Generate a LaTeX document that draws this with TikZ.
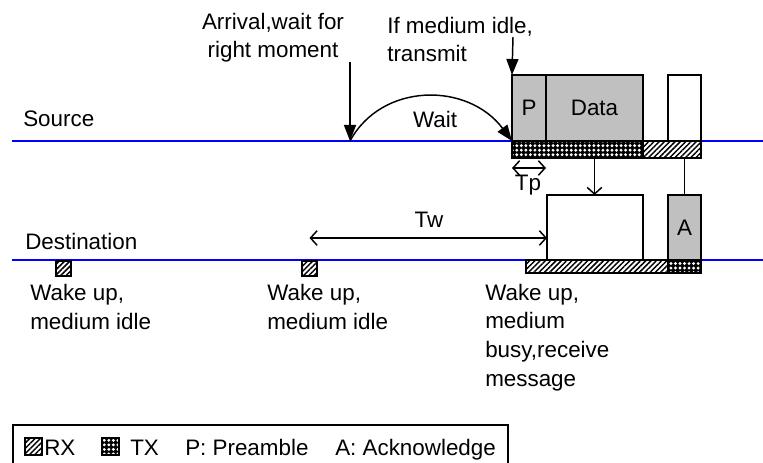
\documentclass[tikz,border=0pt]{standalone}
\usepackage{fontspec}
\setmainfont{Liberation Sans}
\usetikzlibrary{arrows.meta,patterns.meta}
\definecolor{boxgray}{RGB}{192,192,192}
\newcommand\lbl{\fontsize{16.8}{21.4}\selectfont}

\begin{document}
\begin{tikzpicture}[x=.75pt,y=-.75pt,font=\lbl,
  txt/.style={inner sep=0pt, anchor=base west, align=left},
  size/.style 2 args={minimum width=#1*.75pt, minimum height=#2*.75pt},
  frame/.style={draw, line width=1.2pt, inner sep=0pt, outer sep=0pt, anchor=north west},
  rx/.style={frame, pattern={Lines[angle=45,distance=2.8pt,line width=1.1pt]}},
  tx/.style={frame, preaction={fill=black}, pattern={Dots[distance=3.4pt,radius=1.2pt]}, pattern color=white},
  tip/.style={-{Triangle[length=12pt,width=9pt]}, line width=1.1pt},
  open/.style={-{Straight Barb[length=5pt,width=11pt]}, line width=1.1pt},
  barb/.style={{Straight Barb[length=5pt,width=11pt]}-{Straight Barb[length=5pt,width=11pt]}, line width=1.1pt}]

\useasboundingbox (0,0) rectangle (763,463);

% the two time lines
\coordinate (srcL) at (12,141); \coordinate (srcR) at (763,141);
\coordinate (dstL) at (12,260); \coordinate (dstR) at (763,260);
\draw[blue, line width=1.5pt] (srcL) -- (srcR);
\draw[blue, line width=1.5pt] (dstL) -- (dstR);
\node[txt] (src) at (23,127) {Source};
\node[txt] (dst) at (25,249) {Destination};

% source: preamble, data, ack
\node[frame, fill=boxgray, size={34}{66}] (pre) at (512,75) {P};
\node[frame, fill=boxgray, size={97}{66}] (data) at (546,75) {Data};
\node[frame, fill=white, size={33}{66}] (sack) at (668,75) {};
\node[tx, size={131}{17}] (stx) at (512,141) {};
\node[rx, size={58}{17}] (srx) at (643,141) {};

% destination: message, ack
\node[frame, fill=white, size={96}{65}] (msg) at (547,195) {};
\node[frame, fill=boxgray, size={33}{65}] (ack) at (668,195) {A};
\node[rx, size={142}{13}] (drx) at (526,260) {};
\node[tx, size={33}{13}] (dtx) at (668,260) {};

\foreach \x/\n in {56/wake1,302/wake2}{
    \node[rx, size={15}{15}] (\n) at (\x,261) {};
}

% arrival and wait (base = last line)
\node[txt, align=center, anchor=base] (arr) at (273,58) {Arrival,wait for\\right moment};
\coordinate (arrtop) at (350,62);
\coordinate (arrive) at (350,141);
\draw[tip] (arrtop) -- (arrive);
\draw[tip] (arrive) .. controls (382,82) and (468,82) .. (pre.south west);
\node[txt, anchor=base] (wait) at (435,128) {Wait};

\node[txt] (idle) at (387,62) {If medium idle,\\transmit};
\coordinate (idletop) at (513,37);
\draw[tip] (idletop) -- (pre.north west);

% Tp and Tw
\coordinate (tp) at (0,168);
\draw[barb] (pre.west |- tp) -- (pre.east |- tp);
\node[txt, anchor=base] (tplbl) at (528,191) {Tp};
\coordinate (tw) at (0,238);
\draw[barb] (wake2.center |- tw) -- (msg.west |- tw);
\node[txt, anchor=base] (twlbl) at (429,228) {Tw};

% data to destination, ack back to source
\draw[open] (stx.south -| data.south) -- (msg.north -| data.south);
\draw[line width=1.1pt] (ack.north) -- (ack.north |- srx.south);

% wake up notes
\node[txt] (note1) at (30,329) {Wake up,\\medium idle};
\node[txt] (note2) at (267,329) {Wake up,\\medium idle};
\node[txt] (note3) at (485,386) {Wake up,\\medium\\busy,receive\\message};

% legend
\draw[line width=1pt] (13,470) -- (13,425) -- (508,425) -- (508,470);
\node[rx, size={17}{17}] (lrx) at (25,438) {};
\node[txt] at (44,455) {RX};
\node[tx, size={17}{17}] (ltx) at (102,438) {};
\node[txt] at (130,455) {TX};
\node[txt] at (185,455) {P: Preamble};
\node[txt] at (335,455) {A: Acknowledge};

\end{tikzpicture}
\end{document}
